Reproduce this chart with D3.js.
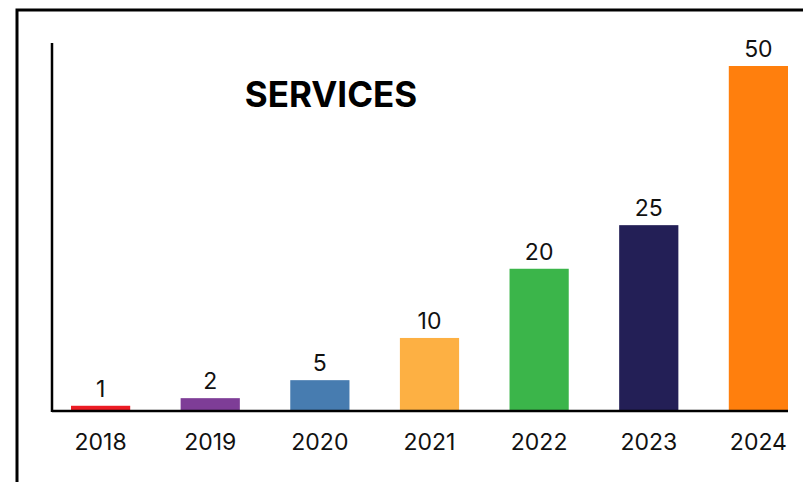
<!DOCTYPE html>
<meta charset="utf-8">
<style>
  body { margin: 0; background: #fff; }
  text { font-family: Inter, "Open Sans", sans-serif; }
</style>
<body>
<script src="https://cdn.jsdelivr.net/npm/d3@7/dist/d3.min.js"></script>
<script>

    // data
    var years = ["2018", "2019", "2020", "2021", "2022", "2023", "2024"];
    var barValues = [0.9, 2.0, 4.6, 10.7, 20.7, 27.0, 50];   // bar heights as drawn
    var valueLabels = ["1", "2", "5", "10", "20", "25", "50"];
    var colors = ["#ec1c24", "#7e3d97", "#477cb0", "#fdb043", "#3bb54a", "#231f56", "#ff7f0d"];

    var w = 803, h = 482;

    var svg = d3.select("body")
            .append("svg")
            .attr("width", w)
            .attr("height", h);

    // outer frame, runs off the right and bottom edge
    svg.append("rect")
            .attr("x", 17)
            .attr("y", 10)
            .attr("width", 820)
            .attr("height", 520)
            .attr("fill", "none")
            .attr("stroke", "#000")
            .attr("stroke-width", 3);

    var x = d3.scaleBand()
            .domain(years)
            .range([71, 788])
            .paddingInner(0.46)
            .paddingOuter(0);

    var y = d3.scaleLinear()
            .domain([0, 50])
            .range([412, 66]);

    var data = years.map(function(d, i) {
        return { year: d, value: barValues[i], label: valueLabels[i], color: colors[i] };
    });

    svg.selectAll("rect.bar")
            .data(data)
            .enter()
            .append("rect")
            .attr("class", "bar")
            .attr("x", function(d) { return x(d.year); })
            .attr("y", function(d) { return y(d.value); })
            .attr("width", x.bandwidth())
            .attr("height", function(d) { return y(0) - y(d.value); })
            .attr("fill", function(d) { return d.color; });

    svg.selectAll("text.val")
            .data(data)
            .enter()
            .append("text")
            .attr("class", "val")
            .attr("x", function(d) { return x(d.year) + x.bandwidth() / 2; })
            .attr("y", function(d) { return y(d.value) - 9; })
            .attr("text-anchor", "middle")
            .attr("font-size", 23)
            .attr("fill", "#111")
            .text(function(d) { return d.label; });

    // x axis labels
    var xAxis = d3.axisBottom(x).tickSize(0).tickPadding(22);
    var gx = svg.append("g")
            .attr("transform", "translate(0," + y(0) + ")")
            .call(xAxis);
    gx.select(".domain").remove();
    gx.selectAll("text")
            .attr("font-size", 23)
            .attr("font-family", "Inter, sans-serif")
            .attr("fill", "#111");

    // axis lines
    svg.append("line")
            .attr("x1", 52).attr("x2", 788)
            .attr("y1", 411).attr("y2", 411)
            .attr("stroke", "#000")
            .attr("stroke-width", 2.5);

    svg.append("line")
            .attr("x1", 52).attr("x2", 52)
            .attr("y1", 43).attr("y2", 412)
            .attr("stroke", "#000")
            .attr("stroke-width", 2.5);

    svg.append("text")
            .attr("x", 331)
            .attr("y", 107)
            .attr("text-anchor", "middle")
            .attr("font-size", 35)
            .attr("font-weight", 700)
            .attr("fill", "#000")
            .text("SERVICES");

</script>
